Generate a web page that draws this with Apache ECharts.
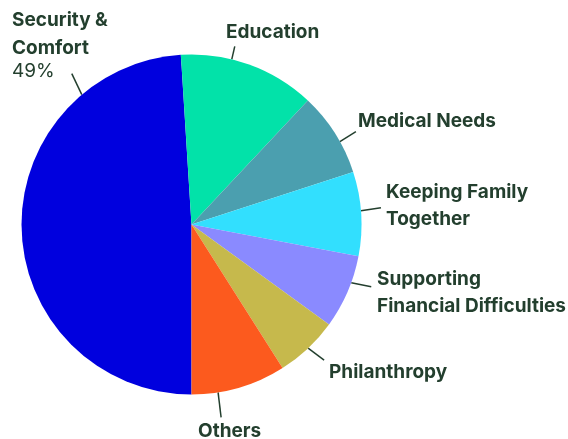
<!DOCTYPE html>
<html><head><meta charset="utf-8">
<script src="https://cdn.jsdelivr.net/npm/echarts@6/dist/echarts.min.js"></script>
<style>html,body{margin:0;padding:0;background:#fff}#c{width:568px;height:439px}</style>
</head><body><div id="c"></div>
<script>
// ---- data ----
const categories = ['Security & Comfort', 'Education', 'Medical Needs', 'Keeping Family Together', 'Supporting Financial Difficulties', 'Philanthropy', 'Others'];
const values = [49, 13, 8, 8, 7, 6, 9];
const labelLines = [['Security &', 'Comfort'], ['Education'], ['Medical Needs'], ['Keeping Family', 'Together'], ['Supporting', 'Financial Difficulties'], ['Philanthropy'], ['Others']];
const showPercent = [true, false, false, false, false, false, false];

// ---- style / layout ----
const colors = ['#0000DE', '#02E2A9', '#4B9FAF', '#32DFFE', '#8A8AFF', '#C6B94C', '#FC5A1E'];
const TEXT = '#233F2E';
const CX = 191.5, CY = 224.5, R = 170;
// label anchor: [x, y, align, verticalAlign]
const labelAnchor = [[12, 7, 'left', 'top'], [226, 32, 'left', 'middle'], [358, 121.5, 'left', 'middle'], [386, 206, 'left', 'middle'], [377, 293, 'left', 'middle'], [329, 372, 'left', 'middle'], [198, 431, 'left', 'middle']];
// leader line: [angle on rim (deg clockwise from top), dx, dy]
const leader = [[319.8, -10, -21], [13.7, 3, -13], [60.8, 16, -10], [85.4, 20, -3], [110, 20, 4], [136.7, 16, 12], [171, 3, 25]];

const chart = echarts.init(document.getElementById('c'), null, {renderer: 'canvas'});
const data = categories.map((c, i) => ({
  name: c, value: values[i],
  itemStyle: {color: colors[i]},
  label: {
    formatter: labelLines[i].map(t => '{b|' + t + '}').join('\n') + (showPercent[i] ? '\n{p|' + values[i] + '%}' : '')
  }
}));

chart.setOption({
  animation: false,
  series: [{
    type: 'pie',
    center: [CX, CY],
    radius: R,
    startAngle: -90,
    clockwise: true,
    avoidLabelOverlap: false,
    itemStyle: {borderWidth: 0},
    emphasis: {disabled: true},
    label: {
      show: true, position: 'outside',
      fontFamily: 'Inter',
      rich: {
        b: {fontFamily: 'Inter', fontWeight: 700, fontSize: 19, lineHeight: 27.5, color: TEXT},
        p: {fontFamily: 'Inter', fontWeight: 400, fontSize: 19, lineHeight: 19, color: TEXT}
      }
    },
    labelLine: {show: true, length: 10, length2: 0, smooth: false, lineStyle: {color: TEXT, width: 1.5}},
    labelLayout: function (params) {
      const i = params.dataIndex;
      const a = leader[i][0] * Math.PI / 180;
      const x0 = CX + R * Math.sin(a), y0 = CY - R * Math.cos(a);
      const an = labelAnchor[i];
      return {
        x: an[0], y: an[1], align: an[2], verticalAlign: an[3],
        labelLinePoints: [[x0, y0], [x0 + leader[i][1], y0 + leader[i][2]]]
      };
    },
    data: data
  }]
});
</script>
</body></html>
